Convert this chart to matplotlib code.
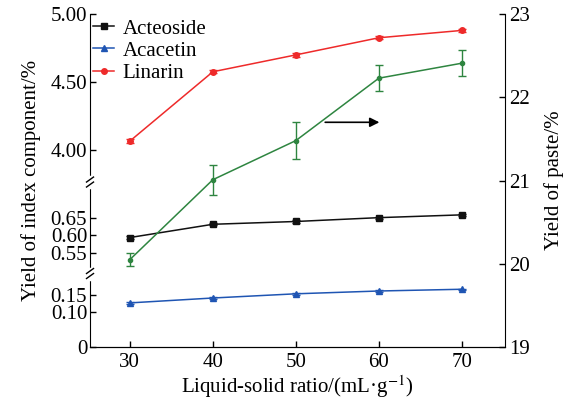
import numpy as np
import matplotlib
matplotlib.use("Agg")
import matplotlib.pyplot as plt
from matplotlib.scale import FuncScale
from matplotlib.lines import Line2D
from matplotlib.legend_handler import HandlerLine2D

plt.rcParams['font.family'] = ['Liberation Serif', 'DejaVu Serif']
plt.rcParams['mathtext.fontset'] = 'stix'
plt.rcParams['font.size'] = 15

# data
ratio = [30, 40, 50, 60, 70]
acteoside = [0.594, 0.632, 0.640, 0.651, 0.659]
acteoside_err = [0.003, 0.003, 0.003, 0.003, 0.003]
acacetin = [0.126, 0.140, 0.152, 0.160, 0.165]
acacetin_err = [0.002, 0.002, 0.002, 0.002, 0.002]
linarin = [4.066, 4.576, 4.700, 4.826, 4.880]
linarin_err = [0.012, 0.012, 0.015, 0.012, 0.012]
paste = [20.05, 21.01, 21.48, 22.23, 22.41]
paste_err = [0.075, 0.18, 0.225, 0.155, 0.155]

names = ['Acteoside', 'Acacetin', 'Linarin']
colors = ['#111111', '#1f55b3', '#ee2a2a']
markers = ['s', '^', 'o']

left_ticks = [0, 0.10, 0.15, 0.55, 0.60, 0.65, 4.00, 4.50, 5.00]
left_labels = ['0', '0.10', '0.15', '0.55', '0.60', '0.65', '4.00', '4.50', '5.00']
right_ticks = [19, 20, 21, 22, 23]

# broken left axis: value -> screen distance
brk_v = [0, 0.21, 0.491, 0.753, 3.765, 5.0]
brk_p = [0, 73.5, 73.51, 165, 165.01, 333]


def fwd(v):
    return np.interp(v, brk_v, brk_p)


def inv(p):
    return np.interp(p, brk_p, brk_v)


class MarkerLeft(HandlerLine2D):
    def get_xdata(self, legend, xdescent, ydescent, width, height, fontsize):
        return [-xdescent, -xdescent + width], [-xdescent]


fig = plt.figure(figsize=(5.69, 4.03), dpi=100)
ax = fig.add_axes([0.1582, 0.139, 0.7293, 0.826])
ax.set_yscale(FuncScale(ax, (fwd, inv)))

cap = dict(capsize=3, elinewidth=1, capthick=1, lw=1.1)
for vals, errs, c, m in zip([acteoside, acacetin, linarin], [acteoside_err, acacetin_err, linarin_err],
                            colors, markers):
    ax.errorbar(ratio, vals, yerr=errs, color=c, marker=m, ms=5 if m != 'o' else 4, **cap)

ax.set_xlim(25.2, 75.2)
ax.set_ylim(0, 5.0)
ax.set_xticks(ratio)
ax.set_yticks(left_ticks)
ax.set_yticklabels(left_labels)
ax.minorticks_off()
ax.tick_params(direction='in', length=4, width=1, pad=2)
ax.tick_params(axis='x', pad=4)
ax.spines['top'].set_visible(False)
ax.spines['right'].set_visible(False)
ax.set_xlabel(r'Liquid-solid ratio/(mL·g$^{-1}$)', labelpad=1)
ax.set_ylabel('Yield of index component/%', labelpad=7)

ax2 = ax.twinx()
ax2.errorbar(ratio, paste, yerr=paste_err, color='#2e8540', marker='o', ms=3, **cap)
ax2.set_ylim(19, 23)
ax2.set_yticks(right_ticks)
ax2.tick_params(direction='in', length=4, width=1, pad=3)
ax2.spines['top'].set_visible(False)
ax2.spines['left'].set_visible(False)
ax2.set_ylabel('Yield of paste/%', labelpad=10)
ax2.annotate('', xy=(60.4, 21.70), xytext=(53.2, 21.70),
             arrowprops=dict(arrowstyle='-|>', color='black', lw=1.2, mutation_scale=14))

# break marks on the left spine
for yb in [73.5 / 333, 165 / 333]:
    dx = 3.5 / 415
    dy = 1.0 / 333
    ax.plot([0, 0], [yb - 5 * dy, yb + 5 * dy], color='white', lw=2.5,
            transform=ax.transAxes, clip_on=False, zorder=5)
    for off in [-2.5 * dy, 2.5 * dy]:
        ax.plot([-dx, dx], [yb + off - 2.5 * dy, yb + off + 2.5 * dy], color='black', lw=1,
                transform=ax.transAxes, clip_on=False, zorder=6)

handles = [Line2D([], [], color=c, marker=m, ms=5 if m != 'o' else 4, lw=1.1)
           for c, m in zip(colors, markers)]
ax.legend(handles, names, loc='upper left', frameon=False, handler_map={Line2D: MarkerLeft()},
          handlelength=1.0, handletextpad=0.4, labelspacing=0.12, borderaxespad=0.0,
          bbox_to_anchor=(-0.012, 1.01))

fig.savefig('out.png', dpi=100)
